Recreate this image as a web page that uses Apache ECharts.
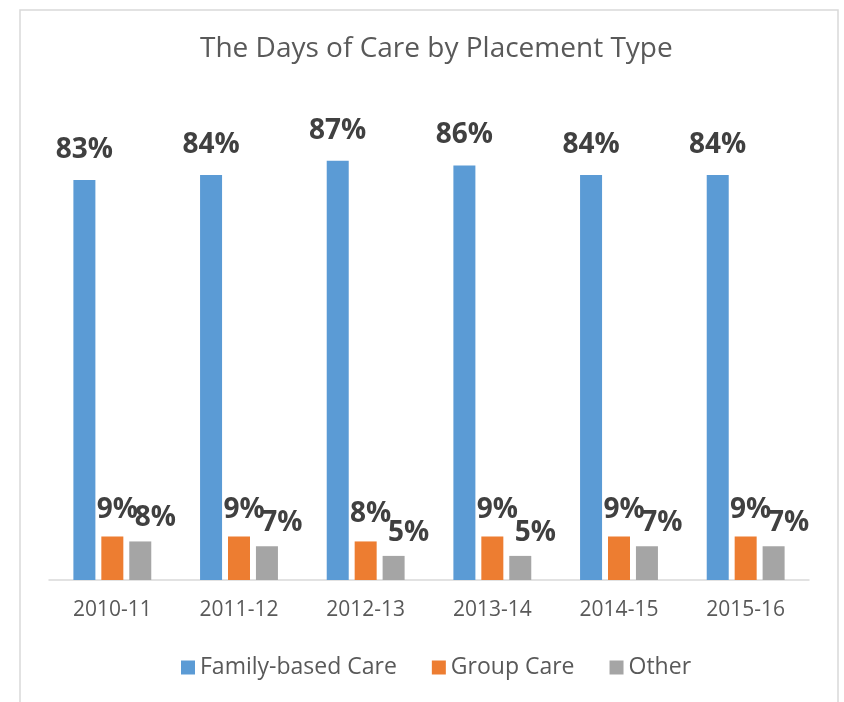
<!DOCTYPE html>
<html><head><meta charset="utf-8">
<script src="https://cdn.jsdelivr.net/npm/echarts@6/dist/echarts.min.js"></script>
<style>html,body{margin:0;padding:0;background:#fff}#c{width:844px;height:702px}</style>
</head><body><div id="c"></div>
<script>
const categories = ['2010-11','2011-12','2012-13','2013-14','2014-15','2015-16'];
const familyCare = [83, 84, 87, 86, 84, 84];
const groupCare = [9, 9, 8, 9, 9, 9];
const otherCare = [8, 7, 5, 5, 7, 7];
const seriesNames = ['Family-based Care','Group Care','Other'];
const colors = ['#5b9bd5','#ed7d31','#a5a5a5'];

const chart = echarts.init(document.getElementById('c'), null, {renderer:'canvas'});
const lbl = (dx, dist) => ({
  show: true, position: 'top', distance: dist, offset: [dx, 0],
  formatter: '{c}%', color: '#404040', fontFamily: 'Open Sans', fontWeight: 'bold', fontSize: 28
});
chart.setOption({
  animation: false,
  graphic: [{type:'rect', shape:{x:20,y:10,width:818,height:720}, style:{fill:'none', stroke:'#d9d9d9', lineWidth:1.5}, silent:true, z:-1}],
  title: {text:'The Days of Care by Placement Type', left:195, top:30,
    textStyle:{fontFamily:'Open Sans', fontWeight:'normal', fontSize:28, color:'#595959'}},
  legend: {bottom: 18, left: 176, itemWidth: 14, itemHeight: 14, itemGap: 35, icon: 'rect',
    textStyle:{fontFamily:'Open Sans', fontSize:23, color:'#595959'}},
  grid: {left:49, right:35, top:98, bottom:122},
  xAxis: {type:'category', data: categories,
    axisLine:{lineStyle:{color:'#d9d9d9', width:1.5}}, axisTick:{show:false},
    axisLabel:{fontFamily:'Open Sans', fontSize:21, color:'#595959', margin:20}},
  yAxis: {type:'value', min:0, max:100, show:false, splitLine:{show:false}},
  series: [
    {name: seriesNames[0], type:'bar', data: familyCare, itemStyle:{color:colors[0]}, barWidth:22, barGap:'27%', label: lbl(0, 16)},
    {name: seriesNames[1], type:'bar', data: groupCare, itemStyle:{color:colors[1]}, barWidth:22, barGap:'27%', label: lbl(5, 13)},
    {name: seriesNames[2], type:'bar', data: otherCare, itemStyle:{color:colors[2]}, barWidth:22, barGap:'27%', label: lbl(15, 9)}
  ]
});
</script></body></html>
